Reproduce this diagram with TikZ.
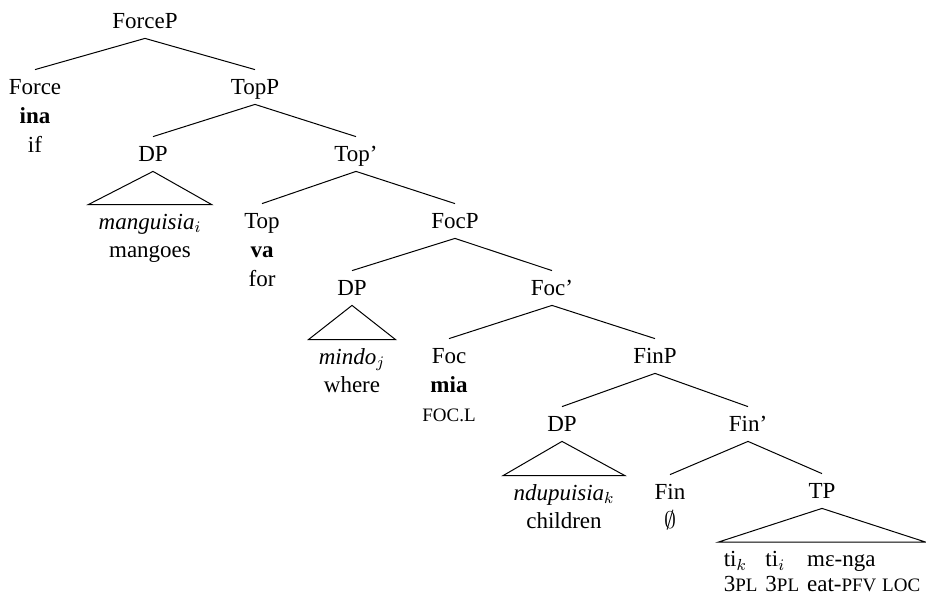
\documentclass[tikz,border=0pt]{standalone}
\usepackage{fontspec}
\setmainfont{Liberation Serif}
\usetikzlibrary{positioning}
\newcommand{\gsc}[1]{{\fontsize{9.5pt}{10pt}\selectfont\MakeUppercase{#1}}}
\tikzset{
  cat/.style={anchor=base,inner sep=3pt,text height=9pt,text depth=2pt},
  lex/.style={anchor=base,inner sep=1pt},
  branch/.style={line width=0.5pt}
}
\begin{document}
\begin{tikzpicture}[x=0.5pt,y=-0.5pt,font=\fontsize{11.5pt}{14.5pt}\selectfont]
    \useasboundingbox (0,0) rectangle (926,600);
    % category labels
    \foreach \n/\x/\y/\t in {
      forcep/145/28/ForceP, force/35/94/Force, topp/255/94/TopP,
      dpa/153/161/DP, topbar/356/161/Top', top/262/228/Top, focp/455/228/FocP,
      dpb/352/295/DP, focbar/552/295/Foc', foc/449/363/Foc, finp/655/363/FinP,
      dpc/562/431/DP, finbar/748/431/Fin', fin/670/499/Fin, tp/822/498/TP}
    {
      \node[cat] (\n) at (\x,\y) {\t};
    }
    % phrases under triangles
    \foreach \n/\x/\y/\t in {
      mang/150/229/\textit{manguisia}$_i$, mindo/352/364/\textit{mindo}$_j$,
      ndup/564/500/\textit{ndupuisia}$_k$}
    {
      \node[cat,inner xsep=5pt] (\n) at (\x,\y) {\t};
    }
    \node[anchor=north,inner xsep=0pt,inner ysep=2pt,minimum width=103pt] (tpleaf) at (822,542)
      {\begin{tabular}{@{}l@{\hspace{4pt}}l@{\hspace{4pt}}l@{}}
        ti$_k$ & ti$_i$ & mɛ-nga\\[-2pt]
        3\gsc{pl} & 3\gsc{pl} & eat-\gsc{pfv} \gsc{loc}
      \end{tabular}};
    % words and glosses
    \foreach \n/\x/\y/\t in {
      ina/35/123/\textbf{ina}, if/35/152/if, mangoes/150/257/mangoes,
      va/262/257/\textbf{va}, for/262/286/for, where/352/392/where,
      mia/449/392/\textbf{mia}, focl/449/421/\gsc{foc.l},
      children/564/528/children, empty/670/528/$\emptyset$}
    {
      \node[lex] (\n) at (\x,\y) {\t};
    }
    % branches
    \foreach \a/\b in {forcep/force, forcep/topp, topp/dpa, topp/topbar,
      topbar/top, topbar/focp, focp/dpb, focp/focbar, focbar/foc, focbar/finp,
      finp/dpc, finp/finbar, finbar/fin, finbar/tp}
    {
      \draw[branch] (\a.south) -- (\b.north);
    }
    \foreach \a/\b in {dpa/mang, dpb/mindo, dpc/ndup, tp/tpleaf}
    {
      \draw[branch] (\a.south) -- (\b.north west) -- (\b.north east) -- cycle;
    }
  \end{tikzpicture}
\end{document}
